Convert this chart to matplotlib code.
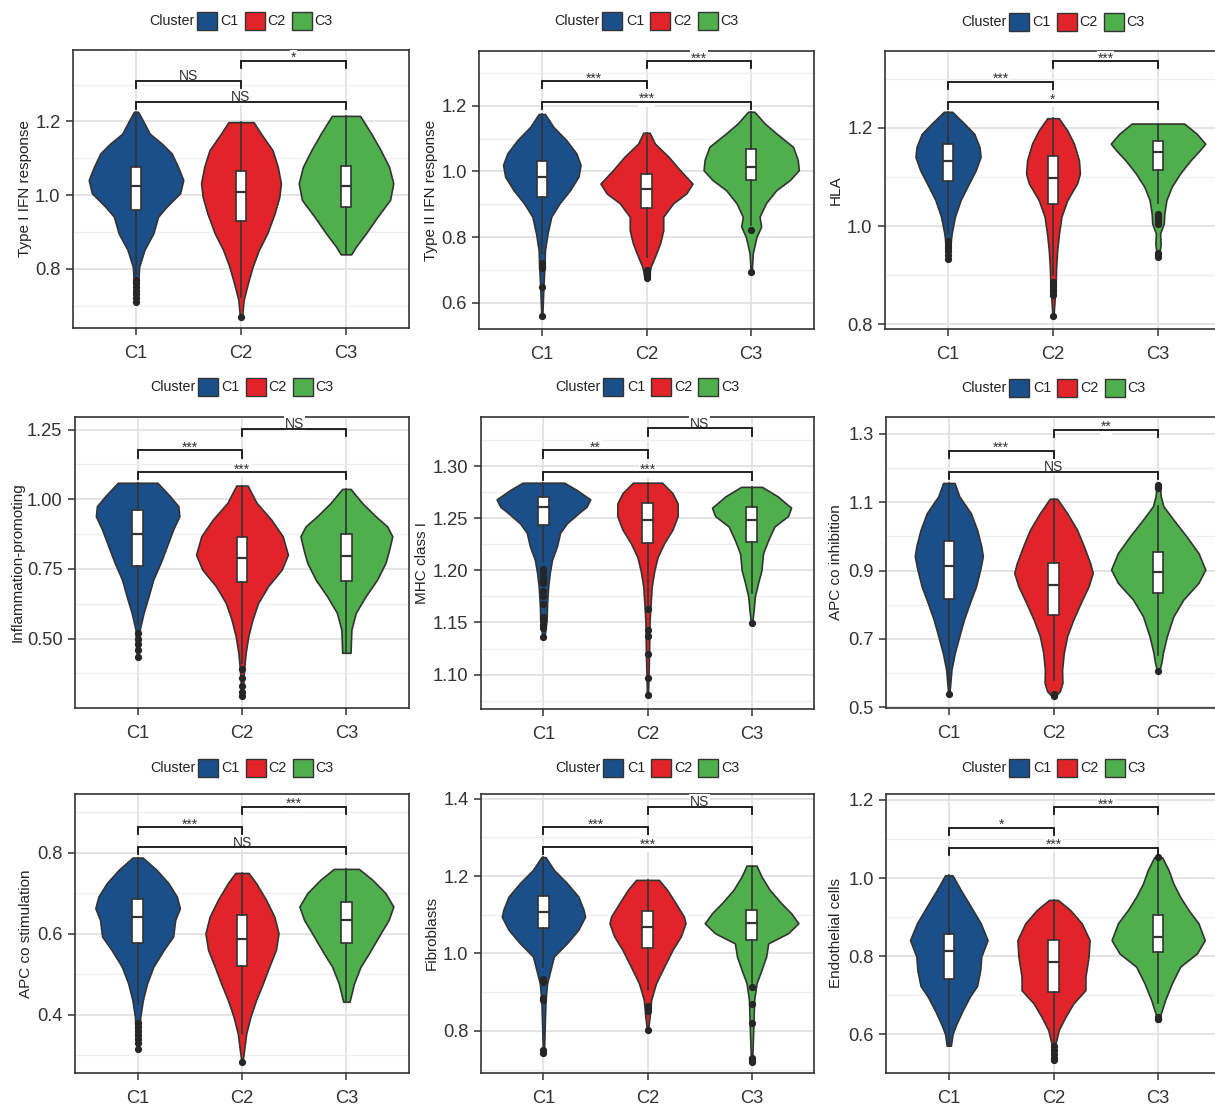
import numpy as np
import matplotlib
matplotlib.use("Agg")
import matplotlib.pyplot as plt
from matplotlib.patches import Rectangle
from matplotlib.ticker import FixedLocator, FormatStrFormatter

plt.rcParams['font.family'] = ['Liberation Sans', 'DejaVu Sans']

W, H = 1215, 1105
CLUSTERS = ["C1", "C2", "C3"]
COLORS = ["#1B4F8A", "#E1242A", "#4FAF4C"]
PAIRS = [(0, 1), (1, 2), (0, 2)]

# ---------------- Panel 1: Type I IFN response ----------------
ifn1_label = "Type I IFN response"
ifn1_y = [[1.226, 1.2, 1.167, 1.14, 1.113, 1.077, 1.041, 1.005, 0.968, 0.941, 0.896, 0.851, 0.805, 0.76, 0.71],
          [1.198, 1.167, 1.122, 1.077, 1.032, 0.995, 0.95, 0.896, 0.851, 0.805, 0.76, 0.715, 0.668],
          [1.215, 1.167, 1.122, 1.077, 1.032, 0.987, 0.941, 0.896, 0.86, 0.839]]
ifn1_w = [[0.02, 0.07, 0.13, 0.245, 0.34, 0.40, 0.45, 0.42, 0.29, 0.21, 0.165, 0.08, 0.03, 0.02, 0.01],
          [0.12, 0.19, 0.30, 0.35, 0.38, 0.365, 0.32, 0.25, 0.17, 0.11, 0.065, 0.025, 0.01],
          [0.135, 0.24, 0.33, 0.41, 0.45, 0.42, 0.30, 0.19, 0.095, 0.05]]
ifn1_box = [[0.785, 0.959, 1.024, 1.075, 1.226], [0.724, 0.930, 1.009, 1.066, 1.198], [0.839, 0.967, 1.025, 1.080, 1.215]]
ifn1_fliers = [[0.77, 0.76, 0.75, 0.74, 0.73, 0.72, 0.71], [0.668], []]
ifn1_sig = ["NS", "*", "NS"]
ifn1_brk = [1.31, 1.364, 1.253]

# ---------------- Panel 2: Type II IFN response ----------------
ifn2_label = "Type II IFN response"
ifn2_y = [[1.175, 1.136, 1.095, 1.055, 1.02, 0.984, 0.943, 0.903, 0.862, 0.811, 0.76, 0.71, 0.649, 0.56],
          [1.118, 1.085, 1.045, 1.004, 0.963, 0.933, 0.903, 0.862, 0.821, 0.781, 0.74, 0.71, 0.679],
          [1.182, 1.146, 1.116, 1.075, 1.035, 1.004, 0.974, 0.943, 0.903, 0.862, 0.832, 0.80, 0.75, 0.694]]
ifn2_w = [[0.03, 0.11, 0.235, 0.33, 0.37, 0.35, 0.27, 0.17, 0.09, 0.055, 0.03, 0.025, 0.015, 0.005],
          [0.03, 0.08, 0.21, 0.32, 0.44, 0.38, 0.255, 0.16, 0.16, 0.13, 0.08, 0.04, 0.02],
          [0.03, 0.13, 0.24, 0.40, 0.445, 0.455, 0.37, 0.24, 0.14, 0.08, 0.095, 0.05, 0.015, 0.005]]
ifn2_box = [[0.753, 0.923, 0.982, 1.032, 1.175], [0.74, 0.89, 0.948, 0.992, 1.118], [0.837, 0.974, 1.014, 1.068, 1.182]]
ifn2_fliers = [[0.72, 0.715, 0.71, 0.705, 0.648, 0.56], [0.70, 0.695, 0.69, 0.685, 0.68, 0.675], [0.823, 0.694]]
ifn2_sig = ["***", "***", "***"]
ifn2_brk = [1.275, 1.336, 1.212]

# ---------------- Panel 3: HLA ----------------
hla_label = "HLA"
hla_y = [[1.233, 1.209, 1.188, 1.161, 1.141, 1.114, 1.087, 1.053, 1.019, 0.985, 0.958, 0.932],
         [1.22, 1.195, 1.168, 1.134, 1.107, 1.087, 1.053, 1.019, 0.985, 0.951, 0.917, 0.883, 0.849, 0.816],
         [1.209, 1.188, 1.168, 1.155, 1.134, 1.107, 1.08, 1.053, 1.025, 1.005, 0.985, 0.964, 0.937]]
hla_w = [[0.04, 0.155, 0.25, 0.30, 0.31, 0.265, 0.20, 0.12, 0.066, 0.035, 0.02, 0.01],
         [0.055, 0.136, 0.20, 0.247, 0.256, 0.23, 0.136, 0.08, 0.057, 0.04, 0.03, 0.025, 0.015, 0.005],
         [0.25, 0.37, 0.45, 0.40, 0.31, 0.21, 0.13, 0.08, 0.06, 0.055, 0.02, 0.025, 0.01]]
hla_box = [[0.985, 1.091, 1.133, 1.167, 1.233], [0.90, 1.044, 1.098, 1.142, 1.22], [1.046, 1.114, 1.152, 1.174, 1.209]]
hla_fliers = [[0.97, 0.965, 0.96, 0.955, 0.95, 0.94, 0.932],
              [0.885, 0.88, 0.875, 0.87, 0.865, 0.86, 0.816],
              [1.025, 1.02, 1.015, 1.01, 1.005, 0.945, 0.94, 0.937]]
hla_sig = ["***", "***", "*"]
hla_brk = [1.294, 1.336, 1.252]

# ---------------- Panel 4: Inflammation-promoting ----------------
infl_label = "Inflammation-promoting"
infl_y = [[1.059, 1.011, 0.975, 0.939, 0.891, 0.831, 0.772, 0.712, 0.652, 0.592, 0.532, 0.472, 0.434],
          [1.049, 0.987, 0.927, 0.867, 0.801, 0.747, 0.688, 0.628, 0.568, 0.508, 0.449, 0.389, 0.329, 0.295],
          [1.037, 0.987, 0.939, 0.903, 0.867, 0.819, 0.772, 0.712, 0.652, 0.592, 0.532, 0.449]]
infl_w = [[0.19, 0.31, 0.39, 0.40, 0.34, 0.28, 0.22, 0.15, 0.105, 0.057, 0.02, 0.015, 0.005],
          [0.054, 0.14, 0.28, 0.39, 0.44, 0.38, 0.25, 0.155, 0.10, 0.06, 0.035, 0.02, 0.01, 0.005],
          [0.04, 0.15, 0.28, 0.39, 0.44, 0.41, 0.375, 0.295, 0.185, 0.09, 0.048, 0.04]]
infl_box = [[0.55, 0.76, 0.876, 0.963, 1.059], [0.413, 0.702, 0.789, 0.864, 1.049], [0.449, 0.705, 0.798, 0.877, 1.037]]
infl_fliers = [[0.52, 0.50, 0.48, 0.46, 0.434], [0.39, 0.36, 0.33, 0.31, 0.295], []]
infl_sig = ["***", "NS", "***"]
infl_brk = [1.175, 1.252, 1.097]

# ---------------- Panel 5: MHC class I ----------------
mhc_label = "MHC class I"
mhc_y = [[1.284, 1.277, 1.268, 1.261, 1.255, 1.245, 1.236, 1.223, 1.21, 1.197, 1.184, 1.168, 1.152, 1.136],
         [1.284, 1.274, 1.264, 1.252, 1.239, 1.226, 1.213, 1.20, 1.184, 1.168, 1.152, 1.12, 1.08],
         [1.28, 1.271, 1.26, 1.252, 1.242, 1.229, 1.216, 1.20, 1.188, 1.175, 1.162, 1.149]]
mhc_w = [[0.20, 0.32, 0.45, 0.415, 0.34, 0.225, 0.16, 0.13, 0.082, 0.06, 0.045, 0.035, 0.03, 0.01],
         [0.14, 0.24, 0.29, 0.29, 0.24, 0.16, 0.098, 0.066, 0.04, 0.03, 0.02, 0.015, 0.005],
         [0.10, 0.25, 0.38, 0.35, 0.22, 0.16, 0.11, 0.095, 0.063, 0.032, 0.02, 0.005]]
mhc_box = [[1.208, 1.243, 1.261, 1.27, 1.284], [1.165, 1.226, 1.248, 1.265, 1.284], [1.178, 1.227, 1.248, 1.261, 1.28]]
mhc_fliers = [[1.201, 1.198, 1.195, 1.192, 1.19, 1.188, 1.18, 1.175, 1.168, 1.155, 1.152, 1.148, 1.145, 1.136],
              [1.163, 1.143, 1.137, 1.12, 1.097, 1.08], [1.149]]
mhc_sig = ["**", "NS", "***"]
mhc_brk = [1.315, 1.336, 1.294]

# ---------------- Panel 6: APC co inhibition ----------------
apci_label = "APC co inhibition"
apci_y = [[1.156, 1.117, 1.068, 1.019, 0.971, 0.942, 0.903, 0.854, 0.805, 0.757, 0.708, 0.659, 0.61, 0.562, 0.54],
          [1.11, 1.068, 1.019, 0.971, 0.922, 0.893, 0.854, 0.805, 0.757, 0.708, 0.659, 0.61, 0.571, 0.547, 0.534],
          [1.151, 1.117, 1.088, 1.049, 1.0, 0.951, 0.903, 0.864, 0.815, 0.766, 0.708, 0.659, 0.63, 0.606]]
apci_w = [[0.055, 0.10, 0.21, 0.27, 0.31, 0.325, 0.30, 0.26, 0.20, 0.145, 0.10, 0.057, 0.025, 0.012, 0.005],
          [0.035, 0.13, 0.225, 0.29, 0.35, 0.375, 0.335, 0.26, 0.19, 0.13, 0.098, 0.082, 0.085, 0.06, 0.02],
          [0.015, 0.025, 0.05, 0.145, 0.27, 0.385, 0.45, 0.385, 0.24, 0.145, 0.083, 0.045, 0.03, 0.01]]
apci_box = [[0.562, 0.817, 0.912, 0.985, 1.156], [0.581, 0.771, 0.859, 0.921, 1.11], [0.654, 0.833, 0.896, 0.954, 1.088]]
apci_fliers = [[0.54], [0.54, 0.535, 0.533], [1.151, 1.145, 1.14, 0.606]]
apci_sig = ["***", "**", "NS"]
apci_brk = [1.25, 1.312, 1.188]

# ---------------- Panel 7: APC co stimulation ----------------
apcs_label = "APC co stimulation"
apcs_y = [[0.788, 0.758, 0.725, 0.692, 0.663, 0.634, 0.593, 0.56, 0.518, 0.477, 0.436, 0.394, 0.353, 0.316],
          [0.75, 0.725, 0.684, 0.642, 0.601, 0.56, 0.518, 0.477, 0.436, 0.394, 0.353, 0.312, 0.283],
          [0.76, 0.733, 0.70, 0.667, 0.634, 0.593, 0.551, 0.518, 0.477, 0.432]]
apcs_w = [[0.048, 0.18, 0.295, 0.375, 0.405, 0.36, 0.34, 0.25, 0.15, 0.09, 0.05, 0.025, 0.02, 0.005],
          [0.063, 0.135, 0.23, 0.31, 0.35, 0.325, 0.26, 0.20, 0.135, 0.08, 0.04, 0.02, 0.005],
          [0.12, 0.25, 0.375, 0.45, 0.405, 0.31, 0.215, 0.135, 0.073, 0.03]]
apcs_box = [[0.427, 0.578, 0.641, 0.685, 0.788], [0.353, 0.52, 0.588, 0.645, 0.75], [0.432, 0.578, 0.634, 0.679, 0.76]]
apcs_fliers = [[0.38, 0.37, 0.36, 0.35, 0.34, 0.33, 0.316], [0.283], []]
apcs_sig = ["***", "***", "NS"]
apcs_brk = [0.863, 0.913, 0.813]

# ---------------- Panel 8: Fibroblasts ----------------
fib_label = "Fibroblasts"
fib_y = [[1.249, 1.216, 1.182, 1.147, 1.113, 1.095, 1.061, 1.026, 0.992, 0.957, 0.923, 0.88, 0.836, 0.743],
         [1.19, 1.164, 1.13, 1.095, 1.078, 1.044, 1.009, 0.966, 0.923, 0.88, 0.836, 0.802],
         [1.227, 1.199, 1.164, 1.13, 1.104, 1.078, 1.052, 1.026, 0.992, 0.957, 0.923, 0.88, 0.836, 0.793, 0.72]]
fib_w = [[0.02, 0.10, 0.225, 0.335, 0.385, 0.40, 0.335, 0.225, 0.10, 0.067, 0.035, 0.02, 0.015, 0.005],
         [0.11, 0.19, 0.27, 0.35, 0.365, 0.32, 0.24, 0.16, 0.082, 0.035, 0.02, 0.005],
         [0.048, 0.095, 0.175, 0.285, 0.38, 0.45, 0.35, 0.16, 0.14, 0.095, 0.048, 0.025, 0.02, 0.015, 0.005]]
fib_box = [[0.966, 1.067, 1.107, 1.149, 1.249], [0.905, 1.013, 1.069, 1.11, 1.19], [0.923, 1.035, 1.078, 1.111, 1.227]]
fib_fliers = [[0.935, 0.93, 0.925, 0.885, 0.88, 0.75, 0.743], [0.865, 0.86, 0.85, 0.802],
              [0.912, 0.87, 0.82, 0.73, 0.725, 0.72]]
fib_sig = ["***", "NS", "***"]
fib_brk = [1.326, 1.378, 1.274]

# ---------------- Panel 9: Endothelial cells ----------------
endo_label = "Endothelial cells"
endo_y = [[1.007, 0.969, 0.927, 0.884, 0.841, 0.799, 0.764, 0.724, 0.696, 0.66, 0.625, 0.6, 0.571],
          [0.944, 0.918, 0.884, 0.841, 0.799, 0.747, 0.713, 0.679, 0.645, 0.611, 0.577, 0.53],
          [1.053, 1.02, 0.986, 0.952, 0.918, 0.884, 0.841, 0.807, 0.773, 0.73, 0.688, 0.653, 0.638]]
endo_w = [[0.035, 0.115, 0.21, 0.305, 0.37, 0.31, 0.30, 0.27, 0.20, 0.13, 0.07, 0.035, 0.02],
          [0.042, 0.16, 0.27, 0.345, 0.335, 0.305, 0.305, 0.19, 0.115, 0.05, 0.02, 0.015],
          [0.038, 0.10, 0.145, 0.21, 0.29, 0.385, 0.445, 0.37, 0.21, 0.13, 0.067, 0.025, 0.01]]
endo_box = [[0.571, 0.741, 0.814, 0.858, 1.007], [0.577, 0.709, 0.785, 0.842, 0.944], [0.68, 0.811, 0.848, 0.905, 1.045]]
endo_fliers = [[], [0.57, 0.56, 0.55, 0.54, 0.533], [1.053, 0.645, 0.64, 0.638]]
endo_sig = ["*", "***", "***"]
endo_brk = [1.129, 1.181, 1.078]

# ---------------- axis scales (tick values) ----------------
ifn1_ticks = [0.8, 1.0, 1.2]
ifn2_ticks = [0.6, 0.8, 1.0, 1.2]
hla_ticks = [0.8, 1.0, 1.2]
infl_ticks = [0.25, 0.50, 0.75, 1.00, 1.25]
mhc_ticks = [1.10, 1.15, 1.20, 1.25, 1.30]
apci_ticks = [0.5, 0.7, 0.9, 1.1, 1.3]
apcs_ticks = [0.4, 0.6, 0.8]
fib_ticks = [0.8, 1.0, 1.2, 1.4]
endo_ticks = [0.6, 0.8, 1.0, 1.2]

PANELS = [
    (ifn1_label, ifn1_y, ifn1_w, ifn1_box, ifn1_fliers, ifn1_sig, ifn1_brk, ifn1_ticks),
    (ifn2_label, ifn2_y, ifn2_w, ifn2_box, ifn2_fliers, ifn2_sig, ifn2_brk, ifn2_ticks),
    (hla_label, hla_y, hla_w, hla_box, hla_fliers, hla_sig, hla_brk, hla_ticks),
    (infl_label, infl_y, infl_w, infl_box, infl_fliers, infl_sig, infl_brk, infl_ticks),
    (mhc_label, mhc_y, mhc_w, mhc_box, mhc_fliers, mhc_sig, mhc_brk, mhc_ticks),
    (apci_label, apci_y, apci_w, apci_box, apci_fliers, apci_sig, apci_brk, apci_ticks),
    (apcs_label, apcs_y, apcs_w, apcs_box, apcs_fliers, apcs_sig, apcs_brk, apcs_ticks),
    (fib_label, fib_y, fib_w, fib_box, fib_fliers, fib_sig, fib_brk, fib_ticks),
    (endo_label, endo_y, endo_w, endo_box, endo_fliers, endo_sig, endo_brk, endo_ticks),
]

# ---------------- layout (pixels) ----------------
AX_PX = [(73, 409, 50, 328), (479, 814, 51, 329), (885, 1221, 51, 329),
         (75, 409, 417, 708), (481, 814, 417, 709), (886, 1221, 417, 708),
         (75, 409, 794, 1073), (481, 814, 794, 1073), (886, 1221, 794, 1073)]
YLIMS = [(0.639, 1.394), (0.52, 1.367), (0.79, 1.357),
         (0.251, 1.295), (1.067, 1.347), (0.498, 1.349),
         (0.256, 0.945), (0.691, 1.412), (0.501, 1.215)]
YFMT = ["%.1f", "%.1f", "%.1f", "%.2f", "%.2f", "%.1f", "%.1f", "%.1f", "%.1f"]
YLAB_OFF = [49, 49, 50, 58, 59, 50, 49, 50, 50]
LEG_Y = [21, 21, 22, 387, 387, 388, 768, 768, 768]

EDGE = "#333333"
TXT = "#333333"

fig = plt.figure(figsize=(W / 100, H / 100), dpi=100)


def px_rect(l, r, t, b):
    return [l / W, 1 - b / H, (r - l) / W, (b - t) / H]


for k, (label, ys, ws, boxes, fliers, sig, brk, ticks) in enumerate(PANELS):
    l, r, t, b = AX_PX[k]
    ax = fig.add_axes(px_rect(l, r, t, b))
    ylim = YLIMS[k]
    ax.set_xlim(0.4, 3.6)
    ax.set_ylim(*ylim)
    pos = [1, 2, 3]

    # grid
    step = ticks[1] - ticks[0]
    minors = [ticks[0] - step / 2] + [v + step / 2 for v in ticks]
    ax.yaxis.set_major_locator(FixedLocator(ticks))
    ax.yaxis.set_minor_locator(FixedLocator(minors))
    ax.yaxis.set_major_formatter(FormatStrFormatter(YFMT[k]))
    ax.set_axisbelow(True)
    ax.grid(True, which='minor', axis='y', color='#EEEEEE', lw=0.9, zorder=0)
    ax.grid(True, which='major', axis='both', color='#E2E2E2', lw=1.3, zorder=0)

    # violins
    vp, widths = [], []
    for y, w, bx in zip(ys, ws, boxes):
        vp.append(dict(coords=np.array(y), vals=np.array(w), mean=bx[2], median=bx[2],
                       min=min(y), max=max(y)))
        widths.append(2 * max(w))
    parts = ax.violin(vp, positions=pos, widths=widths, showextrema=False)
    for body, c in zip(parts['bodies'], COLORS):
        body.set_facecolor(c)
        body.set_edgecolor(EDGE)
        body.set_alpha(1)
        body.set_linewidth(1.2)
        body.set_joinstyle('round')
        body.set_zorder(2)

    # boxplots
    stats = [dict(whislo=bx[0], q1=bx[1], med=bx[2], q3=bx[3], whishi=bx[4], fliers=f)
             for bx, f in zip(boxes, fliers)]
    ax.bxp(stats, positions=pos, widths=0.1, patch_artist=True, showcaps=False,
           manage_ticks=False, zorder=3,
           boxprops=dict(facecolor='white', edgecolor=EDGE, linewidth=1.2),
           whiskerprops=dict(color=EDGE, linewidth=1.2),
           medianprops=dict(color=EDGE, linewidth=1.6),
           flierprops=dict(marker='o', markersize=4.2, markerfacecolor='#262626',
                           markeredgecolor='#262626'))

    # significance brackets
    tip = 0.025 * (ylim[1] - ylim[0])
    for (i, j), yb, s in zip(PAIRS, brk, sig):
        x1, x2 = pos[i], pos[j]
        ax.plot([x1, x1, x2, x2], [yb - tip, yb, yb, yb - tip], color='#111111',
                lw=1.3, zorder=6, solid_joinstyle='miter')
        dy = 0.6 if s == "NS" else -0.8
        ax.annotate(s, xy=((x1 + x2) / 2, yb), xytext=(0, dy), textcoords='offset points',
                    ha='center', va='baseline', fontsize=10, color=TXT, zorder=5,
                    bbox=dict(fc='white', ec='none', pad=0.6))

    # axes styling
    ax.set_xticks(pos)
    ax.set_xticklabels(CLUSTERS)
    for sp in ax.spines.values():
        sp.set_color(EDGE)
        sp.set_linewidth(1.2)
    ax.tick_params(axis='both', which='major', length=5, width=1.1, color=EDGE,
                   labelsize=13.2, labelcolor=TXT)
    ax.tick_params(axis='x', which='major', pad=7)
    ax.tick_params(axis='y', which='major', pad=4)
    ax.tick_params(which='minor', length=0)
    ax.set_ylabel(label, fontsize=11, color='#222222')
    wpx = r - l
    ax.yaxis.set_label_coords(-(YLAB_OFF[k] - 7.5) / wpx, 0.5)

    # legend (Cluster + swatches)
    cx = (l + r) / 2
    ly = LEG_Y[k]
    fig.text((cx - 92) / W, 1 - ly / H, "Cluster", ha='left', va='center',
             fontsize=10.3, color='#222222')
    box_x = [cx - 44.5, cx + 3.5, cx + 51]
    txt_x = [cx - 20.5, cx + 26.5, cx + 73.5]
    for c, lab, bxx, tx in zip(COLORS, CLUSTERS, box_x, txt_x):
        fig.add_artist(Rectangle((bxx / W, 1 - (ly + 9) / H), 20 / W, 18 / H,
                                 transform=fig.transFigure, facecolor=c,
                                 edgecolor=EDGE, linewidth=1.0))
        fig.text(tx / W, 1 - ly / H, lab, ha='left', va='center', fontsize=10.3,
                 color='#222222')

fig.savefig("out.png", dpi=100)
